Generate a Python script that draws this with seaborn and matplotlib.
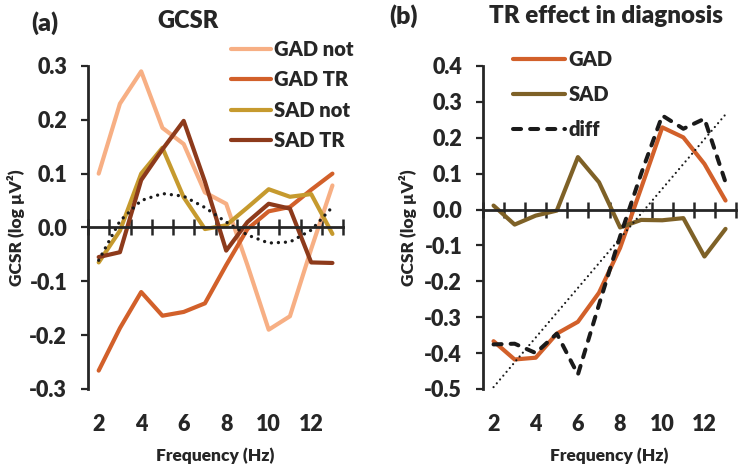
import numpy as np
import pandas as pd
import seaborn as sns
import matplotlib
matplotlib.use("Agg")
import matplotlib.pyplot as plt

# frequências (Hz) e valores
freq = [2, 3, 4, 5, 6, 7, 8, 9, 10, 11, 12, 13]
tick_freq = [2, 4, 6, 8, 10, 12]

# painel (a) GCSR
gad_not = [0.10, 0.23, 0.29, 0.185, 0.155, 0.065, 0.044, -0.07, -0.19, -0.165, -0.04, 0.078]
gad_tr = [-0.266, -0.187, -0.120, -0.164, -0.157, -0.141, -0.07, -0.003, 0.03, 0.038, 0.07, 0.10]
sad_not = [-0.065, -0.006, 0.10, 0.148, 0.056, -0.003, 0.004, 0.037, 0.071, 0.057, 0.062, -0.012]
sad_tr = [-0.055, -0.046, 0.088, 0.145, 0.198, 0.085, -0.043, 0.01, 0.044, 0.035, -0.065, -0.066]
trend_a = [-0.061, 0.012, 0.050, 0.063, 0.058, 0.037, 0.010, -0.014, -0.029, -0.027, -0.005, 0.038]

# painel (b) efeito TR no diagnóstico
gad_eff = [-0.367, -0.418, -0.413, -0.346, -0.313, -0.232, -0.107, 0.06, 0.229, 0.201, 0.127, 0.025]
sad_eff = [0.011, -0.042, -0.017, -0.003, 0.146, 0.076, -0.05, -0.029, -0.03, -0.024, -0.131, -0.054]
diff_eff = [-0.376, -0.374, -0.40, -0.346, -0.46, -0.265, -0.075, 0.10, 0.262, 0.225, 0.253, 0.076]
trend_b_x = [2, 13]
trend_b = [-0.495, 0.265]

yticks_a = [-0.3, -0.2, -0.1, 0.0, 0.1, 0.2, 0.3]
yticks_b = [-0.5, -0.4, -0.3, -0.2, -0.1, 0.0, 0.1, 0.2, 0.3, 0.4]

sns.set_theme(style="white")
plt.rcParams['font.family'] = ['Lato', 'DejaVu Sans']
plt.rcParams['font.weight'] = 'heavy'
plt.rcParams['axes.labelweight'] = 'heavy'
TXT = '#262626'
plt.rcParams['text.color'] = TXT
plt.rcParams['axes.labelcolor'] = TXT
plt.rcParams['xtick.color'] = TXT
plt.rcParams['ytick.color'] = TXT

c_peach = '#F7AF84'
c_orange = '#D2602A'
c_gold = '#C69A2E'
c_brown = '#8D3A1B'
c_olive = '#7E6127'

fig = plt.figure(figsize=(7.4, 4.68), dpi=100)
ax1 = fig.add_axes([0.119, 0.169, 0.3446, 0.690])
ax2 = fig.add_axes([0.6527, 0.169, 0.342, 0.690])


def style_axes(ax, yticks, label_x):
    ax.set_xlim(freq[0] - 0.5, freq[-1] + 0.5)
    ax.set_ylim(yticks[0], yticks[-1])
    for s in ['top', 'right']:
        ax.spines[s].set_visible(False)
    for s in ['left', 'bottom']:
        ax.spines[s].set_color(TXT)
        ax.spines[s].set_linewidth(2.0)
    # linha do zero com marcas cruzadas entre categorias
    ax.spines['bottom'].set_position(('data', 0))
    ax.set_xticks(np.arange(freq[0] - 0.5, freq[-1] + 1, 1))
    ax.tick_params(axis='x', direction='inout', length=11, width=1.8,
                   labelbottom=False, bottom=True)
    ax.set_yticks(yticks)
    ax.set_yticklabels([f"{v:.1f}" for v in yticks])
    ax.tick_params(axis='y', direction='out', length=5, width=1.6, pad=10,
                   labelsize=15.5, left=True)
    ax.set_ylabel("GCSR (log µV²)", fontsize=12.5)
    ax.yaxis.set_label_coords(label_x, 0.5)
    ax.set_xlabel("Frequency (Hz)", fontsize=12.5)
    ax.xaxis.set_label_coords(0.5, -0.18)
    # rótulos de frequência no rodapé
    sec = ax.secondary_xaxis('bottom')
    sec.spines['bottom'].set_visible(False)
    sec.set_xticks(tick_freq)
    sec.set_xticklabels([str(t) for t in tick_freq])
    sec.tick_params(axis='x', length=0, pad=18, labelsize=15.5)


# painel (a)
sns.lineplot(x=freq, y=gad_not, ax=ax1, color=c_peach, lw=3, label="GAD not")
sns.lineplot(x=freq, y=gad_tr, ax=ax1, color=c_orange, lw=3, label="GAD TR")
sns.lineplot(x=freq, y=sad_not, ax=ax1, color=c_gold, lw=3, label="SAD not")
sns.lineplot(x=freq, y=sad_tr, ax=ax1, color=c_brown, lw=3, label="SAD TR")
sns.lineplot(x=freq, y=trend_a, ax=ax1, color='#1a1a1a', lw=2.4,
             linestyle=(0, (0.01, 2.1)), dash_capstyle='round')
h, l = ax1.get_legend_handles_labels()
ax1.legend(h[:4], l[:4], loc='upper left', bbox_to_anchor=(0.56, 1.08),
           frameon=False, fontsize=14.5, handlelength=2.0, handletextpad=0.15,
           labelspacing=0.56, borderpad=0, borderaxespad=0)
style_axes(ax1, yticks_a, -0.247)

# painel (b)
sns.lineplot(x=freq, y=gad_eff, ax=ax2, color=c_orange, lw=3, label="GAD")
sns.lineplot(x=freq, y=sad_eff, ax=ax2, color=c_olive, lw=3, label="SAD")
sns.lineplot(x=freq, y=diff_eff, ax=ax2, color='#1a1a1a', lw=2.9,
             linestyle=(0, (2.0, 2.25)), dash_capstyle='round', label="diff")
sns.lineplot(x=trend_b_x, y=trend_b, ax=ax2, color='#1a1a1a', lw=1.6,
             linestyle=(0, (0.01, 2.25)), dash_capstyle='round')
h, l = ax2.get_legend_handles_labels()
ax2.legend(h[:3], l[:3], loc='upper left', bbox_to_anchor=(0.119, 1.05),
           frameon=False, fontsize=14.5, handlelength=2.6, handletextpad=0.15,
           labelspacing=0.8, borderpad=0, borderaxespad=0)
style_axes(ax2, yticks_b, -0.26)

# títulos
fig.text(45 / 740, 1 - 23.5 / 468, "(a)", fontsize=18, ha='center', va='center')
fig.text(188 / 740, 1 - 21 / 468, "GCSR", fontsize=17, ha='center', va='center')
fig.text(404 / 740, 1 - 16.5 / 468, "(b)", fontsize=18, ha='center', va='center')
fig.text(606 / 740, 1 - 16 / 468, "TR effect in diagnosis", fontsize=17.4,
         ha='center', va='center')

fig.savefig("out.png", dpi=100)
